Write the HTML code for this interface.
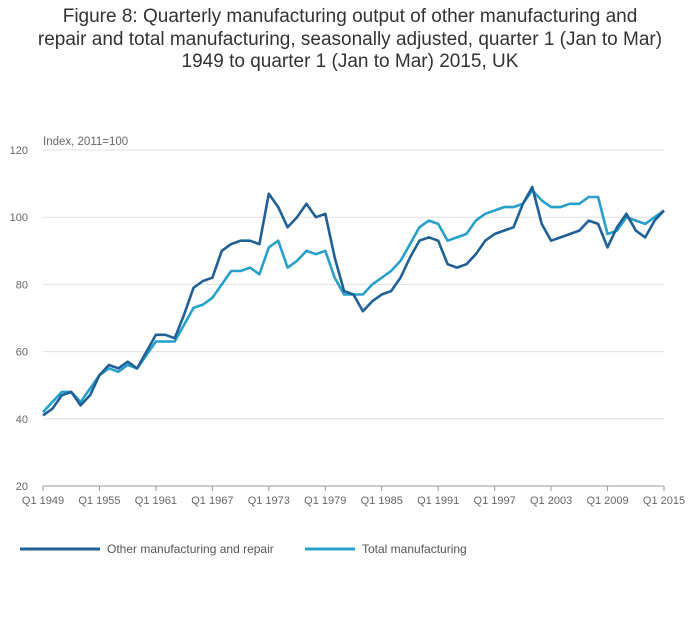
<!DOCTYPE html>
<html><head><meta charset="utf-8"><style>
body{margin:0;background:#fff;font-family:"Liberation Sans",sans-serif;}
#wrap{position:relative;width:700px;height:635px;overflow:hidden;}
#title{position:absolute;top:6px;left:0;width:700px;text-align:center;font-size:19px;line-height:22.5px;color:#333;}
</style></head><body>
<div id="wrap">
<div id="title">Figure 8: Quarterly manufacturing output of other manufacturing and<br>repair and total manufacturing, seasonally adjusted, quarter 1 (Jan to Mar)<br>1949 to quarter 1 (Jan to Mar) 2015, UK</div>
<svg id="chart" width="700" height="635" style="position:absolute;left:0;top:0"></svg>
</div>
<script>
const years=[1949,1950,1951,1952,1953,1954,1955,1956,1957,1958,1959,1960,1961,1962,1963,1964,1965,1966,1967,1968,1969,1970,1971,1972,1973,1974,1975,1976,1977,1978,1979,1980,1981,1982,1983,1984,1985,1986,1987,1988,1989,1990,1991,1992,1993,1994,1995,1996,1997,1998,1999,2000,2001,2002,2003,2004,2005,2006,2007,2008,2009,2010,2011,2012,2013,2014,2015];
const otherMfg=[41,43,47,48,44,47,53,56,55,57,55,60,65,65,64,71,79,81,82,90,92,93,93,92,107,103,97,100,104,100,101,88,78,77,72,75,77,78,82,88,93,94,93,86,85,86,89,93,95,96,97,104,109,98,93,94,95,96,99,98,91,97,101,96,94,99,102];
const totalMfg=[42,45,48,48,45,49,53,55,54,56,55,59,63,63,63,68,73,74,76,80,84,84,85,83,91,93,85,87,90,89,90,82,77,77,77,80,82,84,87,92,97,99,98,93,94,95,99,101,102,103,103,104,108,105,103,103,104,104,106,106,95,96,100,99,98,100,102];
const yTicks=[20,40,60,80,100,120];
const xTickLabels=["Q1 1949","Q1 1955","Q1 1961","Q1 1967","Q1 1973","Q1 1979","Q1 1985","Q1 1991","Q1 1997","Q1 2003","Q1 2009","Q1 2015"];
const xTickYears=[1949,1955,1961,1967,1973,1979,1985,1991,1997,2003,2009,2015];
const X0=43,X1=664,Y0=486,Y1=150;
function xs(y){return X0+(y-1949)/(2015-1949)*(X1-X0);}
function ys(v){return Y0-(v-20)/100*(Y0-Y1);}
const svg=document.getElementById('chart');const NS='http://www.w3.org/2000/svg';
function mk(t,a){const e=document.createElementNS(NS,t);for(const k in a)e.setAttribute(k,a[k]);svg.appendChild(e);return e;}
yTicks.forEach(v=>{
const l=mk('line',{x1:X0,x2:X1,y1:ys(v),y2:ys(v),stroke:v===20?'#999':'#e0e0e0','stroke-width':1});


const t=mk('text',{x:X0-15,y:ys(v)+4,'font-size':11,fill:'#666','text-anchor':'end'});t.textContent=v;


});
const yt=mk('text',{x:X0,y:ys(120)-5,'font-size':11.5,fill:'#666'});yt.textContent='Index, 2011=100';


xTickYears.forEach((yr,i)=>{
const l=mk('line',{x1:xs(yr),x2:xs(yr),y1:Y0,y2:Y0+5,stroke:'#999'});


const t=mk('text',{x:xs(yr),y:Y0+18,'font-size':11,fill:'#666','text-anchor':'middle'});t.textContent=xTickLabels[i];


});
function line(vals,col,name){
const p=mk('path',{d:vals.map((v,i)=>(i?'L':'M')+xs(years[i]).toFixed(1)+','+ys(v).toFixed(1)).join(''),fill:'none',stroke:col,'stroke-width':2.6,'stroke-linejoin':'round'});


}
line(totalMfg,'#27a0cc','total-manufacturing-line');
line(otherMfg,'#206095','other-manufacturing-line');
[[20,100,'#206095','Other manufacturing and repair','legend-other-manufacturing'],[305,355,'#27a0cc','Total manufacturing','legend-total-manufacturing']].forEach(d=>{
const l=mk('line',{x1:d[0],x2:d[1],y1:549,y2:549,stroke:d[2],'stroke-width':3});


const t=mk('text',{x:d[1]+7,y:553,'font-size':12,fill:'#555'});t.textContent=d[3];


});
</script>
</body></html>
